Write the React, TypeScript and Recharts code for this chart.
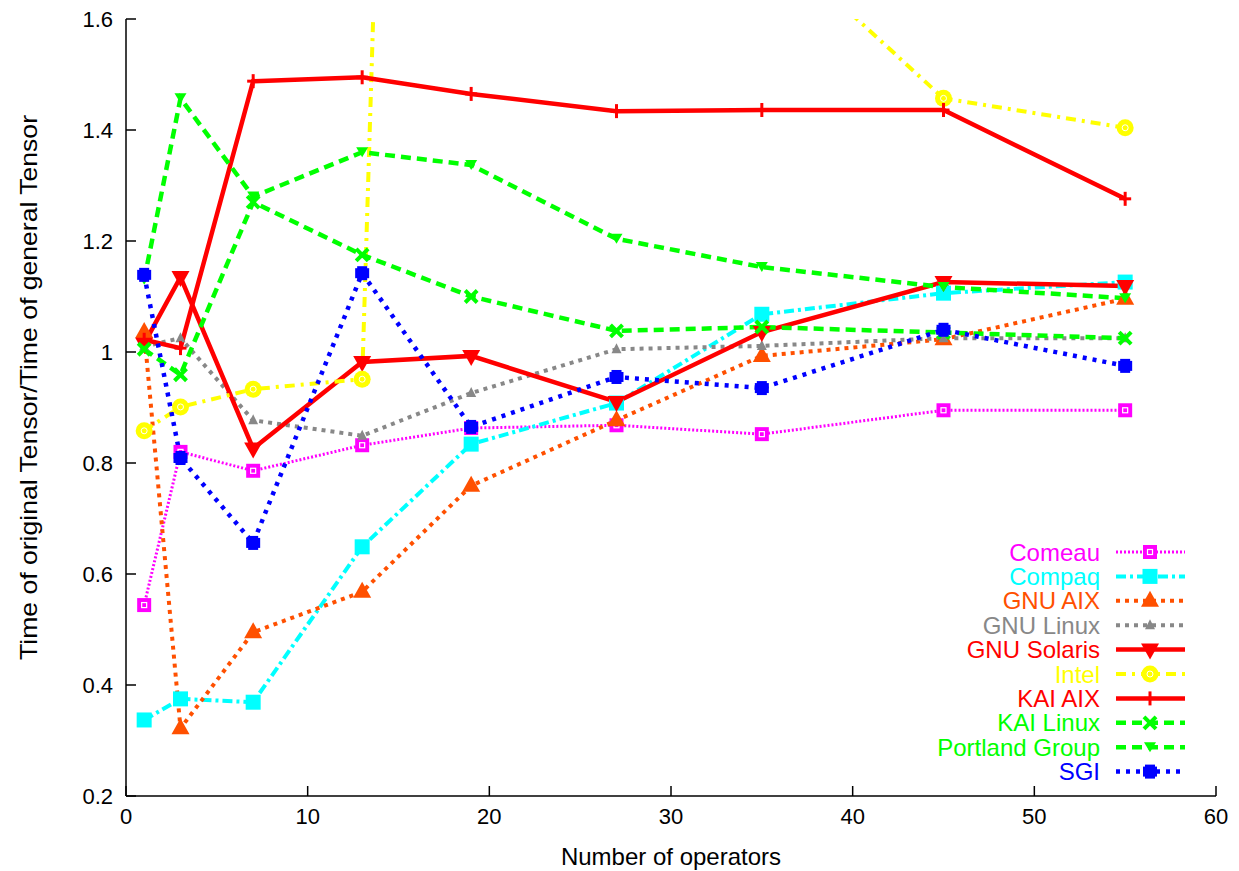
import React from "react";
import { LineChart, Line, XAxis, YAxis } from "recharts";

const OPERATORS = [1, 3, 7, 13, 19, 27, 35, 45, 55];

const comeau = [0.544, 0.82, 0.786, 0.832, 0.863, 0.868, 0.852, 0.895, 0.895];
const compaq = [0.337, 0.375, 0.369, 0.649, 0.834, 0.908, 1.068, 1.106, 1.126];
const gnuAix = [1.036, 0.322, 0.495, 0.568, 0.759, 0.877, 0.993, 1.023, 1.096];
const gnuLinux = [1.01, 1.025, 0.877, 0.849, 0.926, 1.005, 1.011, 1.025, 1.025];
const gnuSolaris = [1.015, 1.135, 0.826, 0.982, 0.993, 0.91, 1.036, 1.126, 1.119];
const intel = [0.858, 0.901, 0.933, 0.951, 7.4, 4.0, 1.757, 1.457, 1.404];
const kaiAix = [1.022, 1.007, 1.488, 1.495, 1.465, 1.434, 1.436, 1.436, 1.276];
const kaiLinux = [1.005, 0.959, 1.27, 1.175, 1.1, 1.038, 1.045, 1.035, 1.025];
const portland = [1.13, 1.457, 1.28, 1.36, 1.337, 1.204, 1.153, 1.117, 1.097];
const sgi = [1.139, 0.809, 0.656, 1.142, 0.865, 0.955, 0.935, 1.04, 0.975];

const X_TICKS = [0, 10, 20, 30, 40, 50, 60];
const Y_TICKS = [0.2, 0.4, 0.6, 0.8, 1, 1.2, 1.4, 1.6];
const Y_MAX = 1.6;

type Shape =
  | "squareHole"
  | "square"
  | "triangle"
  | "smallTriangle"
  | "down"
  | "smallDown"
  | "circle"
  | "plus"
  | "cross"
  | "box";

interface SeriesDef {
  key: string;
  name: string;
  values: number[];
  color: string;
  width: number;
  dash?: string;
  shape: Shape;
}

const SERIES: SeriesDef[] = [
  { key: "comeau", name: "Comeau", values: comeau, color: "#FF00FF", width: 3, dash: "2 2", shape: "squareHole" },
  { key: "compaq", name: "Compaq", values: compaq, color: "#00FFFF", width: 4, dash: "10 4 3 4", shape: "square" },
  { key: "gnuAix", name: "GNU AIX", values: gnuAix, color: "#FF5000", width: 4, dash: "4 5", shape: "triangle" },
  { key: "gnuLinux", name: "GNU Linux", values: gnuLinux, color: "#888888", width: 4, dash: "4 5", shape: "smallTriangle" },
  { key: "gnuSolaris", name: "GNU Solaris", values: gnuSolaris, color: "#FF0000", width: 4.5, shape: "down" },
  { key: "intel", name: "Intel", values: intel, color: "#FFFF00", width: 4, dash: "10 6 3 6", shape: "circle" },
  { key: "kaiAix", name: "KAI AIX", values: kaiAix, color: "#FF0000", width: 4.5, shape: "plus" },
  { key: "kaiLinux", name: "KAI Linux", values: kaiLinux, color: "#00FF00", width: 4.5, dash: "10 6", shape: "cross" },
  { key: "portland", name: "Portland Group", values: portland, color: "#00FF00", width: 4.5, dash: "10 6", shape: "smallDown" },
  { key: "sgi", name: "SGI", values: sgi, color: "#0000FF", width: 4.5, dash: "4 6", shape: "box" },
];

const data = OPERATORS.map((op, i) => {
  const row: Record<string, number> = { op };
  SERIES.forEach((s) => {
    row[s.key] = s.values[i];
  });
  return row;
});

function Marker({ cx, cy, shape, color }: { cx: number; cy: number; shape: Shape; color: string }) {
  switch (shape) {
    case "squareHole":
      return (
        <g>
          <rect x={cx - 7} y={cy - 7} width={14} height={14} fill={color} />
          <rect x={cx - 2.5} y={cy - 2.5} width={5} height={5} fill="none" stroke="#fff" strokeWidth={1.2} />
        </g>
      );
    case "square":
      return <rect x={cx - 7.5} y={cy - 7.5} width={15} height={15} fill={color} />;
    case "triangle":
      return <polygon points={`${cx},${cy - 10} ${cx - 9},${cy + 6} ${cx + 9},${cy + 6}`} fill={color} />;
    case "smallTriangle":
      return <polygon points={`${cx},${cy - 6} ${cx - 5},${cy + 4} ${cx + 5},${cy + 4}`} fill={color} />;
    case "down":
      return <polygon points={`${cx},${cy + 10} ${cx - 9},${cy - 6} ${cx + 9},${cy - 6}`} fill={color} />;
    case "smallDown":
      return <polygon points={`${cx},${cy + 5} ${cx - 6},${cy - 5} ${cx + 6},${cy - 5}`} fill={color} />;
    case "circle":
      return (
        <g>
          <circle cx={cx} cy={cy} r={8.5} fill={color} />
          <circle cx={cx} cy={cy} r={3} fill="none" stroke="#fff" strokeWidth={1} />
        </g>
      );
    case "plus":
      return (
        <g stroke={color} strokeWidth={3}>
          <line x1={cx - 6} y1={cy} x2={cx + 6} y2={cy} />
          <line x1={cx} y1={cy - 7} x2={cx} y2={cy + 7} />
        </g>
      );
    case "cross":
      return (
        <g stroke={color} strokeWidth={4}>
          <line x1={cx - 6} y1={cy - 6} x2={cx + 6} y2={cy + 6} />
          <line x1={cx - 6} y1={cy + 6} x2={cx + 6} y2={cy - 6} />
        </g>
      );
    case "box":
      return (
        <g fill={color}>
          <rect x={cx - 7} y={cy - 5} width={14} height={10} />
          <rect x={cx - 5} y={cy - 7} width={10} height={14} />
        </g>
      );
  }
  return null;
}

function makeDot(s: SeriesDef) {
  return (props: any) => {
    const { cx, cy, index, value } = props;
    const v = Array.isArray(value) ? value[1] : value;
    if (cx == null || cy == null || v > Y_MAX) return <g key={`${s.key}-${index}`} />;
    return (
      <g key={`${s.key}-${index}`}>
        <Marker cx={cx} cy={cy} shape={s.shape} color={s.color} />
      </g>
    );
  };
}

const FONT = "'Liberation Sans', Arial, Helvetica, sans-serif";
const TICK_LEN = 10;
const X_MARGIN = 12;
const Y_MARGIN = 13;

function BottomTick(props: any) {
  const { x, y, payload } = props;
  const axisY = y - X_MARGIN;
  return (
    <g>
      <line x1={x} y1={axisY} x2={x} y2={axisY - TICK_LEN} stroke="#000" strokeWidth={1.5} />
      <text x={x} y={y + 16} textAnchor="middle" fontSize={22} fontFamily={FONT} fill="#000">
        {payload.value}
      </text>
    </g>
  );
}

function LeftTick(props: any) {
  const { x, y, payload } = props;
  const axisX = x + Y_MARGIN;
  return (
    <g>
      <line x1={axisX} y1={y} x2={axisX + TICK_LEN} y2={y} stroke="#000" strokeWidth={1.5} />
      <text x={x} y={y} textAnchor="end" dominantBaseline="central" fontSize={22} fontFamily={FONT} fill="#000">
        {payload.value}
      </text>
    </g>
  );
}

function TopTick(props: any) {
  const { x, y } = props;
  return <line x1={x} y1={y} x2={x} y2={y + TICK_LEN} stroke="#000" strokeWidth={1.5} />;
}

function RightTick(props: any) {
  const { x, y } = props;
  return <line x1={x} y1={y} x2={x - TICK_LEN} y2={y} stroke="#000" strokeWidth={1.5} />;
}

function YTitle(props: any) {
  const { viewBox } = props;
  const cy = viewBox.y + viewBox.height / 2 - 20;
  const cx = 28;
  return (
    <text
      x={cx}
      y={cy}
      transform={`rotate(-90 ${cx} ${cy})`}
      textAnchor="middle"
      dominantBaseline="central"
      fontSize={24}
      fontFamily={FONT}
      fill="#000"
      textLength={545}
      lengthAdjust="spacingAndGlyphs"
    >
      Time of original Tensor/Time of general Tensor
    </text>
  );
}

const ROW_H = 24.4;

function LegendBox() {
  return (
    <svg width={300} height={260} style={{ position: "absolute", left: 900, top: 540 }}>
      {SERIES.map((s, i) => {
        const y = 12 + i * ROW_H;
        return (
          <g key={s.key}>
            <text x={200} y={y} textAnchor="end" dominantBaseline="central" fill={s.color} fontSize={24} fontFamily={FONT}>
              {s.name}
            </text>
            <line x1={216} y1={y} x2={285} y2={y} stroke={s.color} strokeWidth={s.width} strokeDasharray={s.dash} />
            <Marker cx={250} cy={y} shape={s.shape} color={s.color} />
          </g>
        );
      })}
    </svg>
  );
}

export default function App() {
  return (
    <div style={{ position: "absolute", left: 0, top: 0, width: 1239, height: 871, background: "#fff" }}>
      <LineChart width={1239} height={871} data={data} margin={{ top: 19, right: 23, bottom: 0, left: 0 }}>
        <XAxis
          dataKey="op"
          type="number"
          domain={[0, 60]}
          ticks={X_TICKS}
          height={75}
          tickSize={0}
          tickMargin={X_MARGIN}
          tickLine={false}
          stroke="#000"
          strokeWidth={1.5}
          tick={<BottomTick />}
          label={{ value: "Number of operators", position: "insideBottom", offset: 6, fill: "#000", fontSize: 24, fontFamily: FONT }}
        />
        <XAxis
          xAxisId="top"
          dataKey="op"
          type="number"
          orientation="top"
          domain={[0, 60]}
          ticks={X_TICKS}
          height={0}
          tickSize={0}
          tickMargin={0}
          tickLine={false}
          stroke="#000"
          strokeWidth={1.5}
          tick={<TopTick />}
        />
        <YAxis
          type="number"
          domain={[0.2, Y_MAX]}
          ticks={Y_TICKS}
          allowDataOverflow
          width={126}
          tickSize={0}
          tickMargin={Y_MARGIN}
          tickLine={false}
          stroke="#000"
          strokeWidth={1.5}
          tick={<LeftTick />}
          label={{ content: <YTitle /> }}
        />
        <YAxis
          yAxisId="right"
          type="number"
          orientation="right"
          domain={[0.2, Y_MAX]}
          ticks={Y_TICKS}
          width={0}
          tickSize={0}
          tickMargin={0}
          tickLine={false}
          stroke="#000"
          strokeWidth={1.5}
          tick={<RightTick />}
        />
        {SERIES.map((s) => (
          <Line
            key={s.key}
            dataKey={s.key}
            name={s.name}
            type="linear"
            stroke={s.color}
            strokeWidth={s.width}
            strokeDasharray={s.dash}
            dot={makeDot(s)}
            activeDot={false}
            isAnimationActive={false}
          />
        ))}
      </LineChart>
      <LegendBox />
    </div>
  );
}
